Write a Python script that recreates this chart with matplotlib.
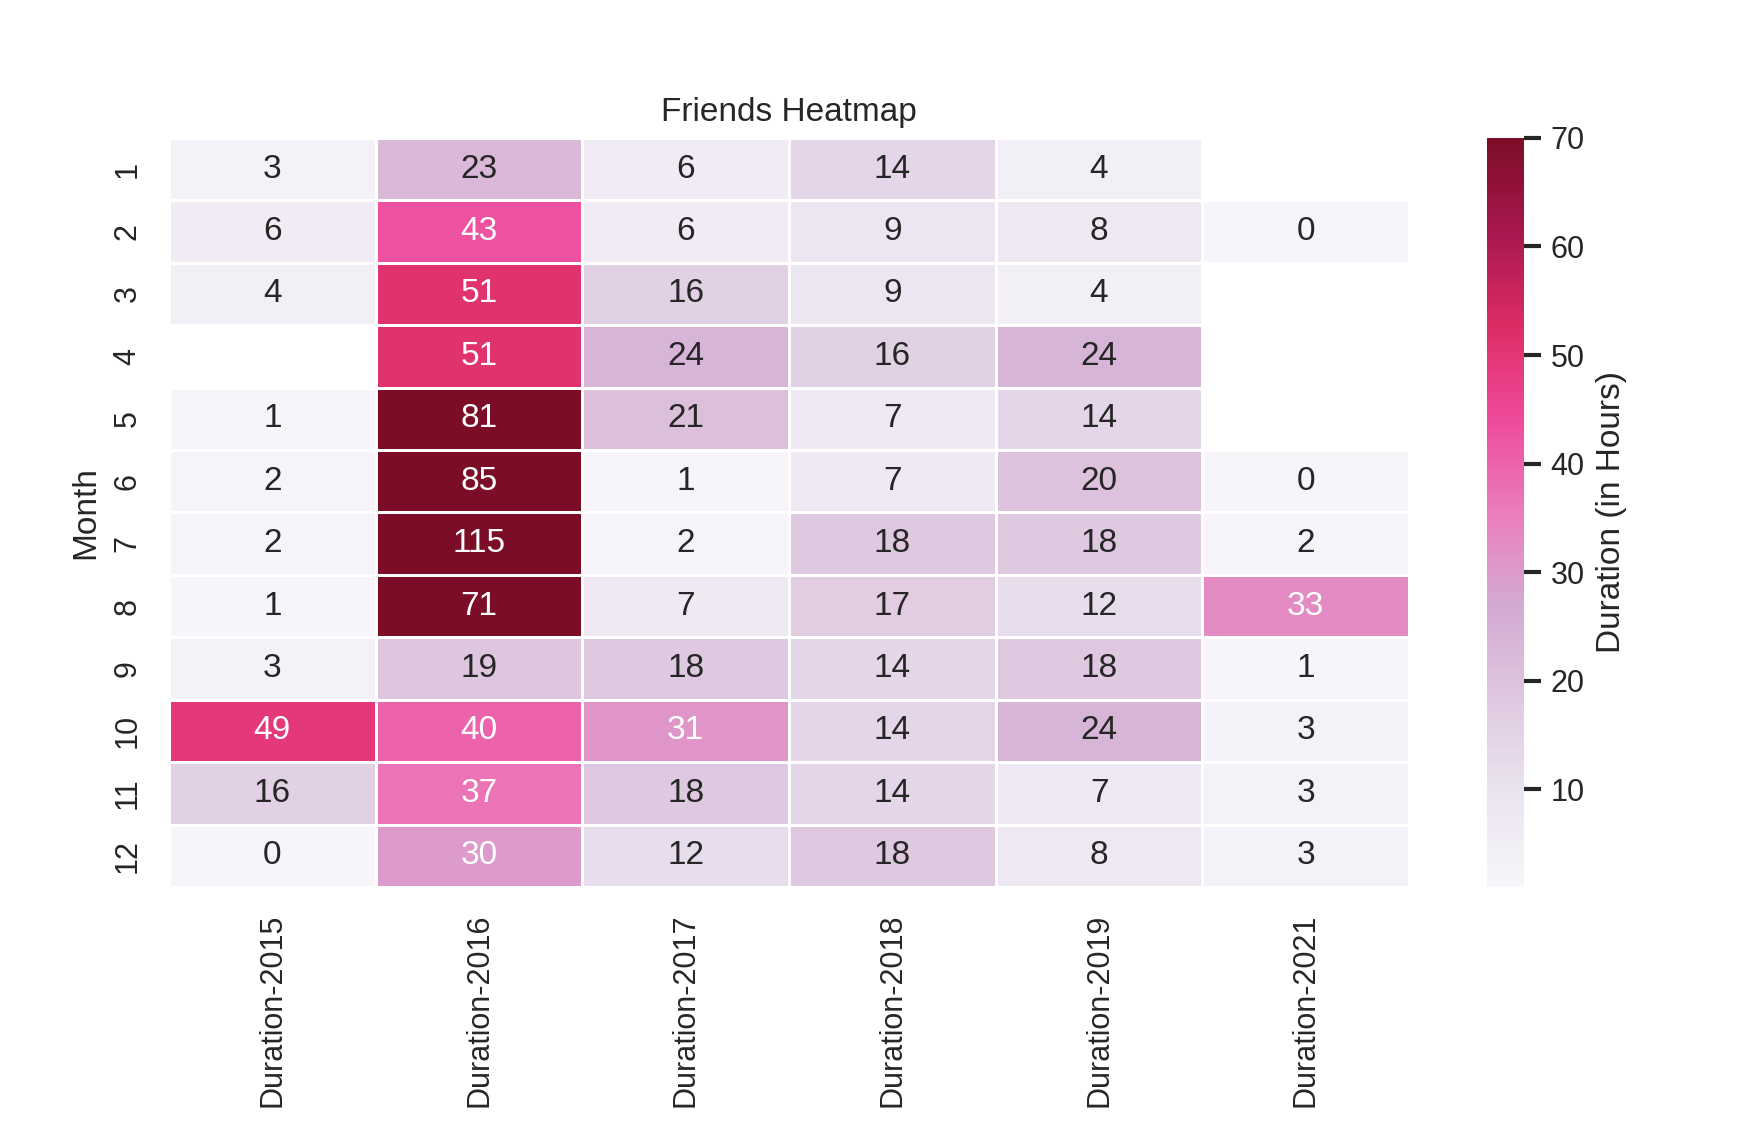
import numpy as np
import pandas as pd
import seaborn as sns
import matplotlib.pyplot as plt
from matplotlib.colors import LinearSegmentedColormap, Normalize
from seaborn.utils import relative_luminance

sns.set_theme(style="white")
plt.rcParams['font.family'] = ['Liberation Sans', 'DejaVu Sans']

months = [1, 2, 3, 4, 5, 6, 7, 8, 9, 10, 11, 12]
nan = np.nan

dur_2015 = [3, 6, 4, nan, 1, 2, 2, 1, 3, 49, 16, 0]
dur_2016 = [23, 43, 51, 51, 81, 85, 115, 71, 19, 40, 37, 30]
dur_2017 = [6, 6, 16, 24, 21, 1, 2, 7, 18, 31, 18, 12]
dur_2018 = [14, 9, 9, 16, 7, 7, 18, 17, 14, 14, 14, 18]
dur_2019 = [4, 8, 4, 24, 14, 20, 18, 12, 18, 24, 7, 8]
dur_2021 = [nan, 0, nan, nan, nan, 0, 2, 33, 1, 3, 3, 3]

df = pd.DataFrame({
    "Duration-2015": dur_2015,
    "Duration-2016": dur_2016,
    "Duration-2017": dur_2017,
    "Duration-2018": dur_2018,
    "Duration-2019": dur_2019,
    "Duration-2021": dur_2021,
}, index=pd.Index(months, name="Month"))

# PuRd as it looks in the reference (a bit softer than matplotlib's)
ref_purd = ["#f7f5fa", "#eae4f0", "#dfc8e0", "#d3abd2", "#eb7dbc",
            "#ef4a9b", "#dc2c64", "#a8174f", "#7b0d26"]
cmap = LinearSegmentedColormap.from_list("ref_purd", ref_purd)
vmin, vmax = 1, 70

fig = plt.figure(figsize=(8.73, 5.63), dpi=200)
ax = fig.add_axes([0.0968, 0.2123, 0.7102, 0.6652])
cax = fig.add_axes([0.8517, 0.2123, 0.0212, 0.6652])

sns.heatmap(df, ax=ax, cbar_ax=cax, cmap=cmap, vmin=vmin, vmax=vmax,
            annot=True, fmt=".0f", linewidths=0.5, linecolor="white",
            cbar_kws={"label": "Duration (in Hours)"})

# text colour picked as seaborn does for the plain PuRd map
purd = plt.get_cmap("PuRd")
norm = Normalize(vmin, vmax)
for t in ax.texts:
    x, y = t.get_position()
    val = df.iloc[int(y), int(x)]
    lum = relative_luminance(purd(norm(val)))
    t.set_color(".15" if lum > .408 else "w")

ax.set_title("Friends Heatmap")
ax.set_xlabel("")
ax.set_ylabel("Month")
plt.setp(ax.get_xticklabels(), rotation=90)
cax.tick_params(length=6, width=1.5)

fig.savefig("out.png", dpi=200)
